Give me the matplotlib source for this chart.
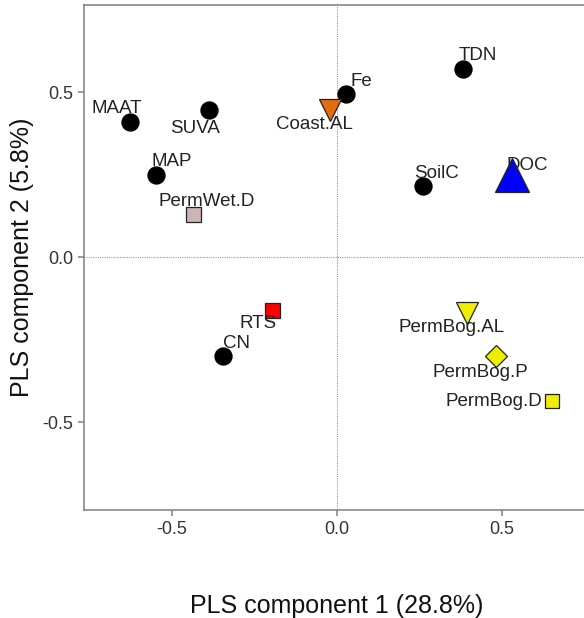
import matplotlib
matplotlib.use('Agg')
import matplotlib.pyplot as plt

plt.rcParams['font.family'] = ['Liberation Sans', 'DejaVu Sans']

# PLS loadings for the environmental variables (black dots)
var_names = ['MAAT', 'SUVA', 'MAP', 'Fe', 'TDN', 'SoilC', 'CN']
var_x = [-0.626, -0.386, -0.547, 0.028, 0.383, 0.262, -0.346]
var_y = [0.410, 0.446, 0.249, 0.495, 0.570, 0.216, -0.298]

# site / response scores, each with its own symbol
site_names = ['PermWet.D', 'Coast.AL', 'DOC', 'RTS', 'PermBog.AL', 'PermBog.P', 'PermBog.D']
site_x = [-0.435, -0.020, 0.531, -0.196, 0.394, 0.483, 0.654]
site_y = [0.131, 0.446, 0.250, -0.160, -0.168, -0.298, -0.435]

site_style = {
    'PermWet.D': dict(marker='s', ms=10.8, mfc='#CDB5B5'),
    'Coast.AL': dict(marker='v', ms=16, mfc='#E46C0A'),
    'DOC': dict(marker='^', ms=24, mfc='#0000FF'),
    'RTS': dict(marker='s', ms=10.8, mfc='#FF0000'),
    'PermBog.AL': dict(marker='v', ms=16, mfc='#EEEE00'),
    'PermBog.P': dict(marker='D', ms=10.7, mfc='#EEEE00'),
    'PermBog.D': dict(marker='s', ms=10.5, mfc='#EEEE00'),
}

# label offsets in points (repelled away from the symbol)
label_off = {
    'MAAT': (-10, 9.5), 'SUVA': (-10, -13), 'MAP': (11, 10), 'Fe': (11, 9),
    'TDN': (11, 10), 'SoilC': (10, 9), 'CN': (10, 8.5),
    'PermWet.D': (10, 9), 'Coast.AL': (-11, -10.5), 'DOC': (11, 7),
    'RTS': (-9.7, -10), 'PermBog.AL': (-11, -10.5), 'PermBog.P': (-11, -12),
    'PermBog.D': (-42, -0.5),
}

fig = plt.figure(figsize=(5.84, 6.18), dpi=100)
ax = fig.add_axes([84 / 584, 108 / 618, 505 / 584, 505 / 618])

ax.axhline(0, color='#999999', lw=0.8, ls=(0, (1, 1)), zorder=1)
ax.axvline(0, color='#999999', lw=0.8, ls=(0, (1, 1)), zorder=1)

label_kw = dict(textcoords='offset points', ha='center', va='center',
                fontsize=13.5, color='#222222', zorder=5)

for name, x, y in zip(var_names, var_x, var_y):
    ax.plot(x, y, 'o', ms=12.2, mfc='black', mec='black', zorder=3)
    ax.annotate(name, (x, y), xytext=label_off[name], **label_kw)

for name, x, y in zip(site_names, site_x, site_y):
    ax.plot(x, y, mec='#222222', mew=0.9, ls='none', zorder=3, **site_style[name])
    ax.annotate(name, (x, y), xytext=label_off[name], **label_kw)

ax.set_xlim(-0.766, 0.765)
ax.set_ylim(-0.766, 0.765)
ax.set_xticks([-0.5, 0.0, 0.5])
ax.set_yticks([-0.5, 0.0, 0.5])
ax.set_xticklabels(['-0.5', '0.0', '0.5'])
ax.set_yticklabels(['-0.5', '0.0', '0.5'])

for s in ax.spines.values():
    s.set_color('#7f7f7f')
    s.set_linewidth(1.1)
ax.tick_params(colors='#7f7f7f', labelcolor='#333333', labelsize=13,
               length=4, width=1.1, pad=4)

ax.set_xlabel('PLS component 1 (28.8%)', fontsize=18, color='#111111', labelpad=40)
ax.set_ylabel('PLS component 2 (5.8%)', fontsize=18, color='#111111', labelpad=6)

fig.savefig('out.png', dpi=100)
